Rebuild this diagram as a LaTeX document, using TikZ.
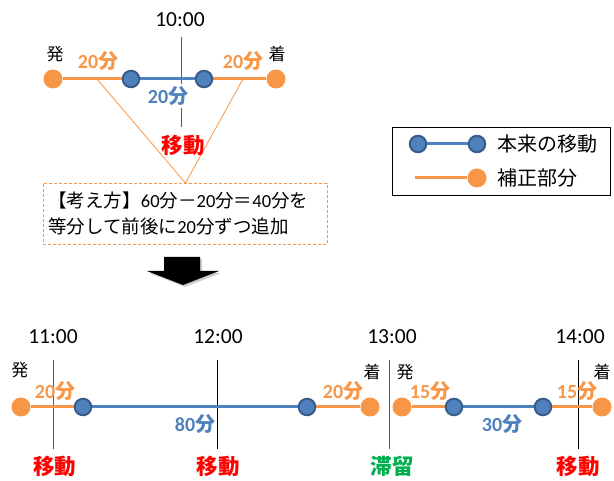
\documentclass[tikz,border=0pt]{standalone}
\usepackage{fontspec}
\setmainfont{Carlito}
\newfontfamily\jp{Noto Sans CJK JP}
\newcommand\J[1]{{\jp #1}}
\definecolor{orange1}{HTML}{F79646}
\definecolor{blue1}{HTML}{4F81BD}
\definecolor{blue2}{HTML}{385D8A}
\definecolor{red1}{HTML}{FF0000}
\definecolor{green1}{HTML}{00B050}
\definecolor{gray1}{HTML}{595959}
\pgfdeclarelayer{bg}
\pgfsetlayers{bg,main}
\begin{document}
\begin{tikzpicture}[x=1pt,y=-1pt,
 odot/.style={circle,fill=orange1,inner sep=0pt,minimum size=19pt},
 bdot/.style={circle,fill=blue1,draw=blue2,line width=2pt,inner sep=0pt,minimum size=16.5pt},
 oline/.style={draw=orange1,line width=3pt},
 bline/.style={draw=blue1,line width=3pt},
 thin/.style={draw=orange1,line width=0.8pt},
 tickg/.style={draw=gray1,line width=1pt},
 tickb/.style={draw=black,line width=1pt},
 timel/.style={font=\fontsize{21.5}{23}\selectfont,inner sep=1pt},
 olab/.style={text=orange1,font=\fontsize{20}{22}\selectfont\bfseries,inner sep=1pt},
 blab/.style={text=blue1,font=\fontsize{20}{22}\selectfont\bfseries,inner sep=1pt},
 mv/.style={text=red1,font=\fontsize{21.5}{23}\selectfont\bfseries\jp,inner sep=1pt},
 st/.style={text=green1,font=\fontsize{21.5}{23}\selectfont\bfseries\jp,inner sep=1pt},
 ep/.style={font=\fontsize{17}{19}\selectfont\jp,inner sep=1pt},
 legt/.style={font=\fontsize{20}{22}\selectfont\jp,anchor=west,inner sep=1pt}
]
\useasboundingbox (0,0) rectangle (614,481);

% ---------- top example ----------
\node[odot] (a1) at (53,79) {};
\node[bdot] (a2) at (131,79) {};
\node[bdot] (a3) at (204,79) {};
\node[odot] (a4) at (276,79) {};
\coordinate (t0a) at (181,37);
\coordinate (t0b) at (181,127);
\coordinate (p1) at (97,79);
\coordinate (p2) at (243,79);
\node[timel] (t0) at (180,20) {10:00};
\node[ep] (dep0) at (55,54) {発};
\node[ep] (arr0) at (277,54) {着};
\node[olab] (l01) at (98,61) {20\J{分}};
\node[olab] (l02) at (243,61) {20\J{分}};
\node[blab,fill=white,inner sep=2pt] (l03) at (168,96) {20\J{分}};
\node[mv] (m0) at (183,145) {移動};
\node[draw=orange1,dashed,dash pattern=on 3pt off 2pt,line width=0.8pt,
      minimum width=284pt,minimum height=61pt,text width=274pt,align=left,
      inner xsep=5pt,anchor=north west,
      font=\fontsize{18.5}{26}\selectfont] (box) at (43,183)
  {\J{【考え方】}60\J{分－}20\J{分＝}40\J{分を}\\\J{等分して前後に}20\J{分ずつ追加}};
\begin{pgfonlayer}{bg}
 \draw[tickg] (t0a) -- (t0b);
 \draw[oline] (a1) -- (a2);
 \draw[bline] (a2) -- (a3);
 \draw[oline] (a3) -- (a4);
 \draw[thin] (p1) -- (box.north) -- (p2);
\end{pgfonlayer}

% ---------- legend ----------
\node[draw=black,line width=0.8pt,minimum width=218pt,minimum height=68pt] (leg) at (501,161) {};
\node[bdot] (g1) at (418,144) {};
\node[bdot] (g2) at (477,144) {};
\coordinate (g3) at (415,178);
\node[odot] (g4) at (477,178) {};
\node[legt] (gt1) at (496,144) {本来の移動};
\node[legt] (gt2) at (496,178) {補正部分};
\begin{pgfonlayer}{bg}
 \draw[bline] (g1) -- (g2);
 \draw[oline] (g3) -- (g4);
\end{pgfonlayer}

% ---------- block arrow ----------
\fill[black!40,opacity=0.5] (166,259) -- (202,259) -- (202,273) -- (221,273) -- (185,287) -- (149,273) -- (166,273) -- cycle;
\fill[black] (164,257) -- (200,257) -- (200,271) -- (219,271) -- (183,285) -- (147,271) -- (164,271) -- cycle;

% ---------- bottom timeline ----------
\node[odot] (b1) at (21,407) {};
\node[bdot] (b2) at (83,407) {};
\node[bdot] (b3) at (307,407) {};
\node[odot] (b4) at (370,407) {};
\node[odot] (b5) at (402,407) {};
\node[bdot] (b6) at (454,407) {};
\node[bdot] (b7) at (543,407) {};
\node[odot] (b8) at (602,407) {};

\coordinate (k1a) at (53,360);  \coordinate (k1b) at (53,449);
\coordinate (k2a) at (217,360); \coordinate (k2b) at (217,449);
\coordinate (k3a) at (389,360); \coordinate (k3b) at (389,449);
\coordinate (k4a) at (578,360); \coordinate (k4b) at (578,449);

\node[timel] (t1) at (53,337) {11:00};
\node[timel] (t2) at (218,337) {12:00};
\node[timel] (t3) at (392,337) {13:00};
\node[timel] (t4) at (580,337) {14:00};

\node[ep] (dep1) at (20,370) {発};
\node[ep] (arr1) at (372,372) {着};
\node[ep] (dep2) at (405,372) {発};
\node[ep] (arr2) at (602,372) {着};

\node[olab] (l11) at (55,391) {20\J{分}};
\node[blab] (l12) at (195,424) {80\J{分}};
\node[olab] (l13) at (343,391) {20\J{分}};
\node[olab] (l14) at (430,391) {15\J{分}};
\node[blab] (l15) at (502,424) {30\J{分}};
\node[olab] (l16) at (577,391) {15\J{分}};

\node[mv] (m1) at (55,466) {移動};
\node[mv] (m2) at (218,466) {移動};
\node[st] (s3) at (392,466) {滞留};
\node[mv] (m4) at (578,466) {移動};

\begin{pgfonlayer}{bg}
 \draw[tickg] (k1a) -- (k1b);
 \draw[tickb] (k2a) -- (k2b);
 \draw[tickg] (k3a) -- (k3b);
 \draw[tickb] (k4a) -- (k4b);
 \draw[oline] (b1) -- (b2);
 \draw[bline] (b2) -- (b3);
 \draw[oline] (b3) -- (b4);
 \draw[oline] (b5) -- (b6);
 \draw[bline] (b6) -- (b7);
 \draw[oline] (b7) -- (b8);
\end{pgfonlayer}
\end{tikzpicture}
\end{document}
